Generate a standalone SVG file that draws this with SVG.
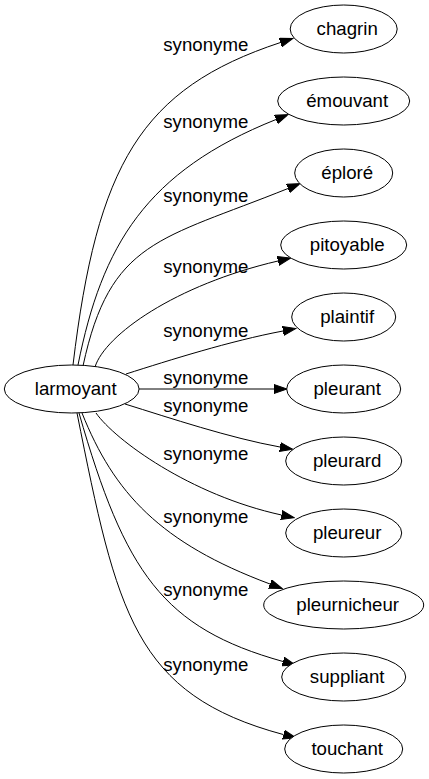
<svg xmlns="http://www.w3.org/2000/svg" width="429" height="779" viewBox="0 0 429 779">
<style>
  .node ellipse { fill: #ffffff; stroke: #000000; stroke-width: 1; }
  .node text { font-family: "Liberation Sans", Arial, sans-serif; font-size: 18.67px; fill: #000000; text-anchor: middle; }
  .edge path { fill: none; stroke: #000000; stroke-width: 1; marker-end: url(#ah); }
  .edge text { font-family: "Liberation Sans", Arial, sans-serif; font-size: 18.67px; fill: #000000; text-anchor: middle; }
</style>
<defs>
  <marker id="ah" markerUnits="userSpaceOnUse" markerWidth="14" markerHeight="10" refX="0" refY="5" orient="auto" viewBox="0 0 14 10">
    <path d="M0,0.5 L13,5 L0,9.5 z" fill="#000000" stroke="#000000" stroke-width="1"/>
  </marker>
</defs>
<rect width="429" height="779" fill="#ffffff"/>
<g id="connectors">
  <g class="edge" id="e-chagrin"><path d="M73,365 C97,165 140.5,88.7 280.5,42.5"/><text x="205.8" y="51">synonyme</text></g>
  <g class="edge" id="e-emouvant"><path d="M78,365 C102,245 146,171.5 276,119.5"/><text x="205.8" y="127.5">synonyme</text></g>
  <g class="edge" id="e-eplore"><path d="M83,366 C110,240 160,240 288,188.5"/><text x="205.8" y="201.5">synonyme</text></g>
  <g class="edge" id="e-pitoyable"><path d="M95,367 C105,335 175,285 278,261"/><text x="205.8" y="273.3">synonyme</text></g>
  <g class="edge" id="e-plaintif"><path d="M126,374 C170,360 230,341 283,331"/><text x="205.8" y="337">synonyme</text></g>
  <g class="edge" id="e-pleurant"><path d="M139,389 L274,389"/><text x="205.8" y="384">synonyme</text></g>
  <g class="edge" id="e-pleurard"><path d="M125,404 C170,418 230,438 280,447"/><text x="205.8" y="412">synonyme</text></g>
  <g class="edge" id="e-pleureur"><path d="M96,413 C115,440 190,495 281.5,515"/><text x="205.8" y="460">synonyme</text></g>
  <g class="edge" id="e-pleurnicheur"><path d="M82,413 C114,493 160,543 270,584"/><text x="205.8" y="523">synonyme</text></g>
  <g class="edge" id="e-suppliant"><path d="M79,413 C125,573 163,628 283,661.5"/><text x="205.8" y="596">synonyme</text></g>
  <g class="edge" id="e-touchant"><path d="M77,413 C117,613 134,694.5 283.5,734.6"/><text x="205.8" y="671">synonyme</text></g>
</g>
<g class="node" id="n-larmoyant"><ellipse cx="71.7" cy="389" rx="67.4" ry="24"/><text x="75.7" y="394.5">larmoyant</text></g>
<g class="node" id="n-chagrin"><ellipse cx="343.7" cy="29" rx="53.5" ry="24"/><text x="347.2" y="34.5">chagrin</text></g>
<g class="node" id="n-emouvant"><ellipse cx="343.7" cy="101" rx="66" ry="24"/><text x="347.2" y="106.5">émouvant</text></g>
<g class="node" id="n-eplore"><ellipse cx="343.7" cy="173" rx="49" ry="24"/><text x="347.2" y="178.5">éploré</text></g>
<g class="node" id="n-pitoyable"><ellipse cx="343.7" cy="245" rx="63" ry="24"/><text x="347.2" y="250.5">pitoyable</text></g>
<g class="node" id="n-plaintif"><ellipse cx="343.7" cy="317" rx="52" ry="24"/><text x="347.2" y="322.5">plaintif</text></g>
<g class="node" id="n-pleurant"><ellipse cx="343.7" cy="389" rx="57" ry="24"/><text x="347.2" y="394.5">pleurant</text></g>
<g class="node" id="n-pleurard"><ellipse cx="343.7" cy="461" rx="58" ry="24"/><text x="347.2" y="466.5">pleurard</text></g>
<g class="node" id="n-pleureur"><ellipse cx="343.7" cy="533" rx="58" ry="24"/><text x="347.2" y="538.5">pleureur</text></g>
<g class="node" id="n-pleurnicheur"><ellipse cx="343.7" cy="605" rx="80" ry="24"/><text x="347.7" y="610.5">pleurnicheur</text></g>
<g class="node" id="n-suppliant"><ellipse cx="343.7" cy="677" rx="62" ry="24"/><text x="347.2" y="682.5">suppliant</text></g>
<g class="node" id="n-touchant"><ellipse cx="343.7" cy="749" rx="59" ry="24"/><text x="347.2" y="754.5">touchant</text></g>
</svg>
